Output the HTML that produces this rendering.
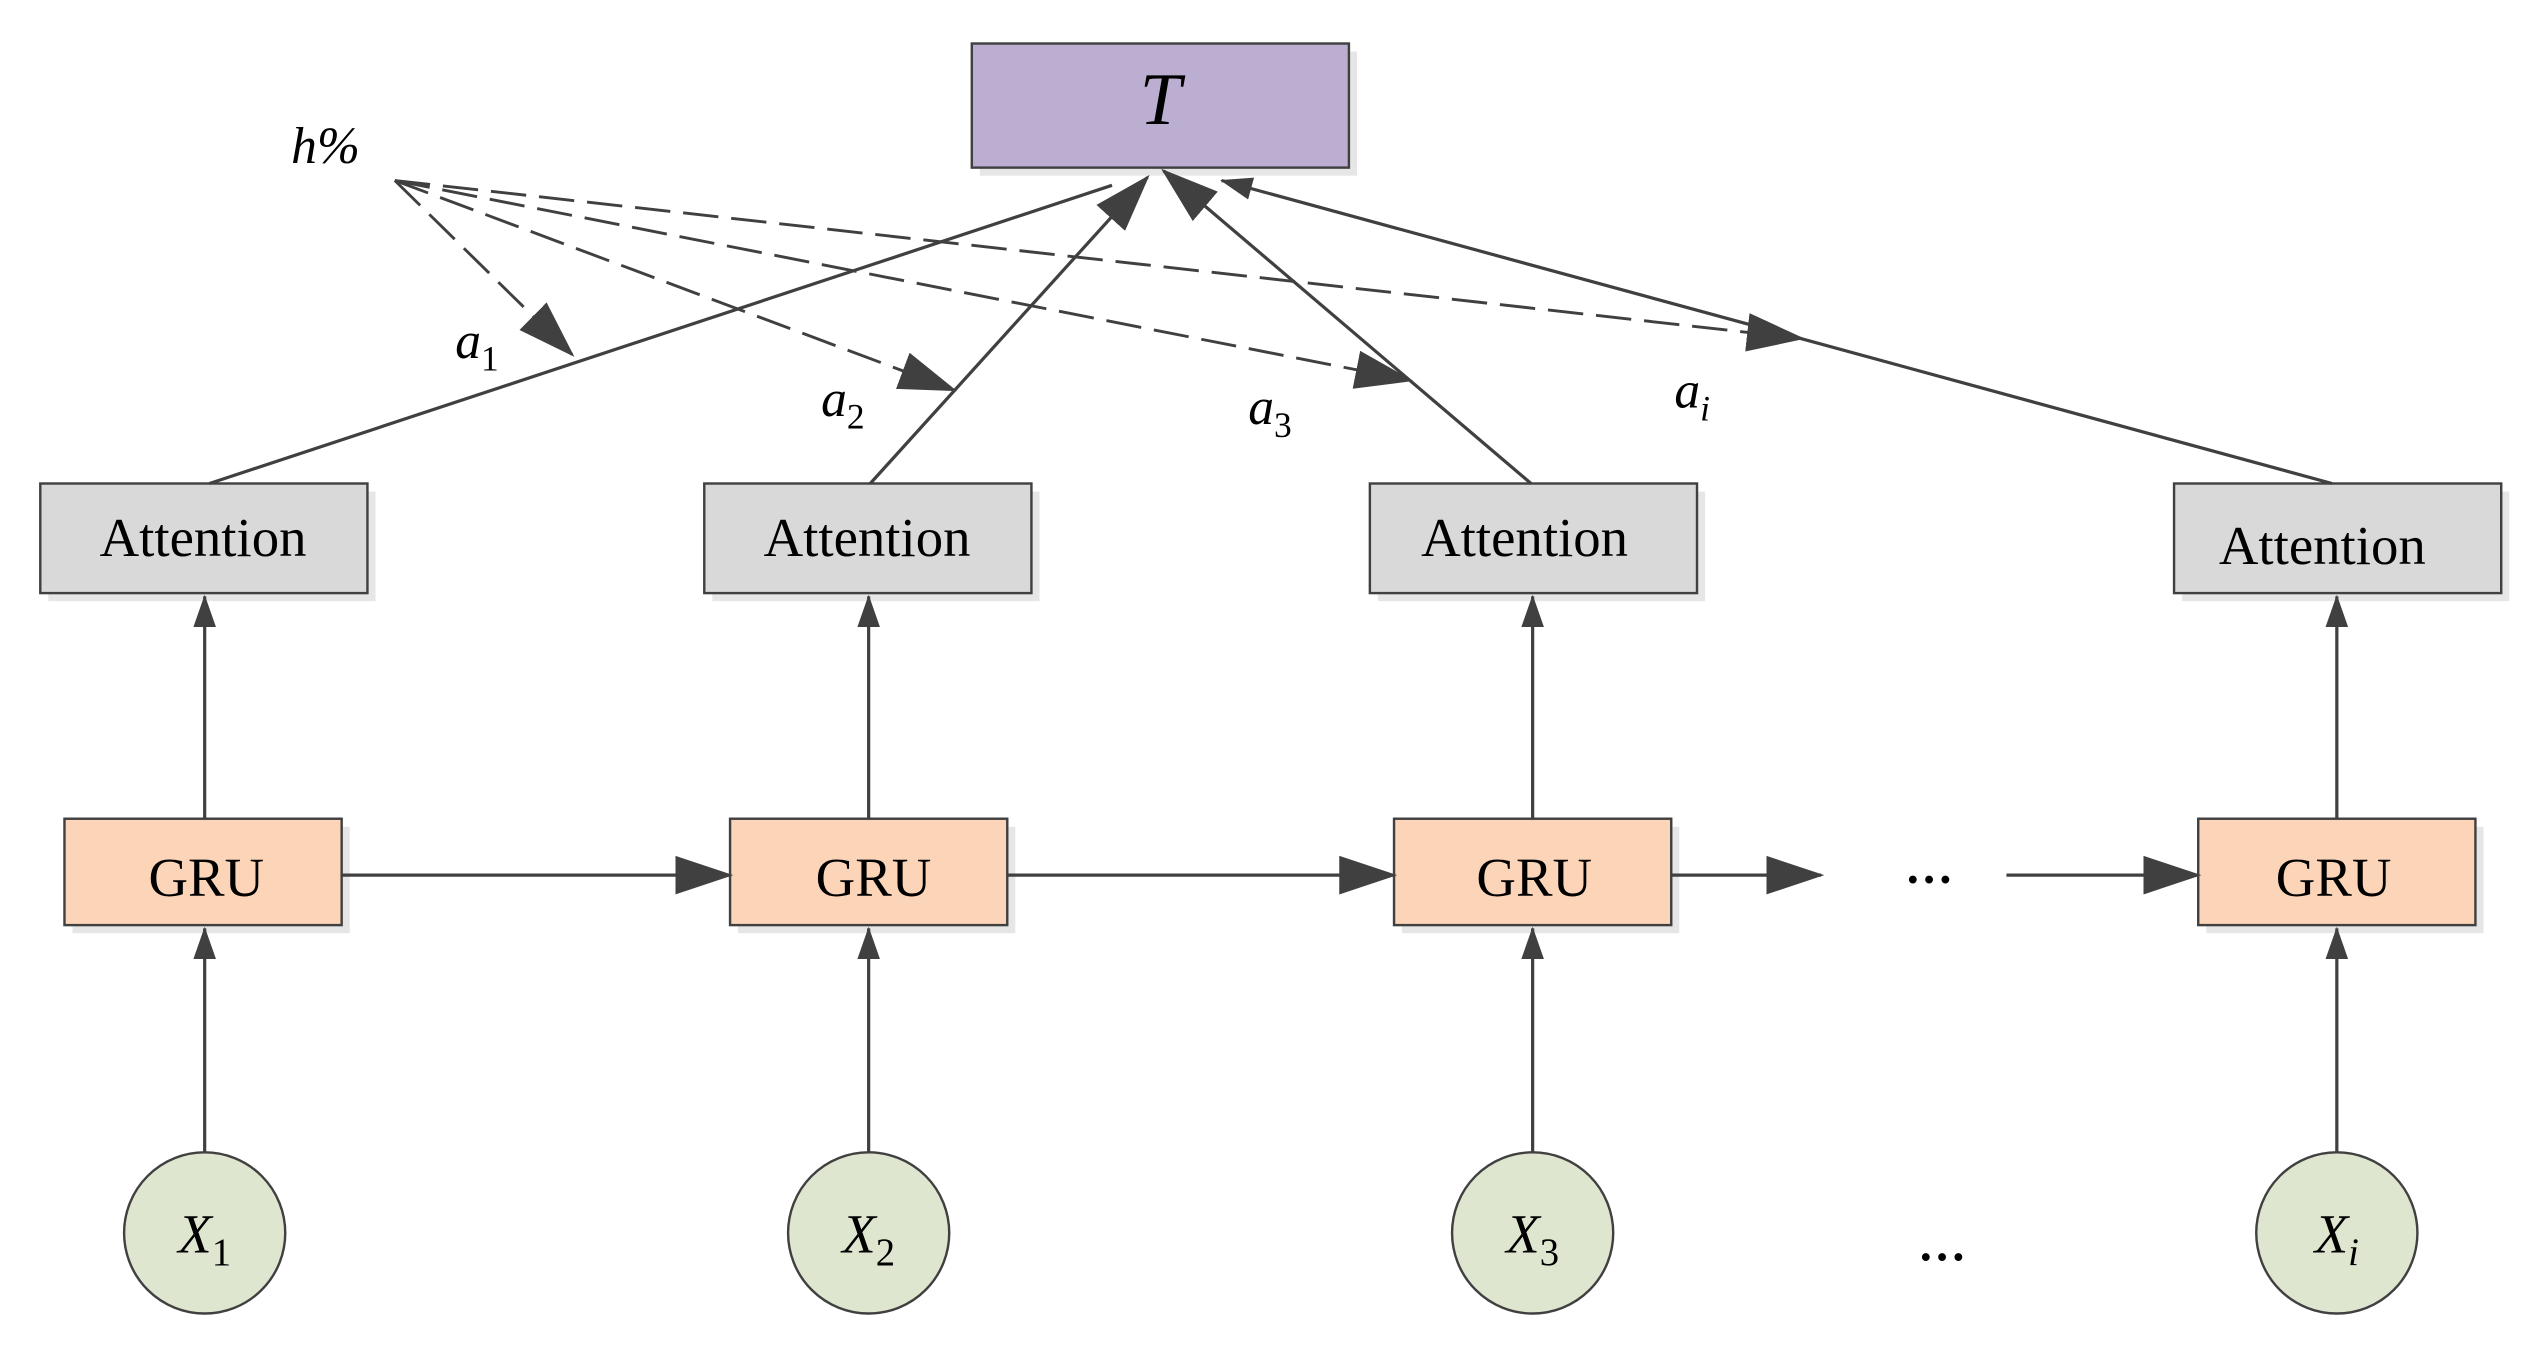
<!DOCTYPE html>
<html><head><meta charset="utf-8"><style>html,body{margin:0;padding:0;background:#fff}svg{display:block}</style></head><body>
<svg width="2527" height="1353" viewBox="0 0 1568 839.5" preserveAspectRatio="none" xmlns="http://www.w3.org/2000/svg" font-family="Liberation Serif, serif">
<defs>
<marker id="am" markerWidth="36" markerHeight="24" refX="34" refY="12" orient="auto" markerUnits="userSpaceOnUse" viewBox="0 0 36 24"><path d="M0,0 L36,12 L0,24 z" fill="#404040"/></marker>
<marker id="as" markerWidth="20" markerHeight="20" refX="19" refY="10" orient="auto" markerUnits="userSpaceOnUse" viewBox="0 0 20 20"><path d="M0,3 L20,10 L0,17 z" fill="#404040"/></marker>
</defs>
<g fill="#e6e6e6">
<rect x="608" y="32" width="234" height="77"/>
<rect x="30" y="305" width="203" height="68"/><rect x="442" y="305" width="203" height="68"/><rect x="855" y="305" width="203" height="68"/><rect x="1354" y="305" width="203" height="68"/>
<rect x="45" y="513" width="172" height="66"/><rect x="458" y="513" width="172" height="66"/><rect x="870" y="513" width="172" height="66"/><rect x="1369" y="513" width="172" height="66"/>
</g>
<rect x="603" y="27" width="234" height="77" fill="#bcaed0" stroke="#404040" stroke-width="1.5"/>
<text x="720" y="77" font-size="46" font-style="italic" text-anchor="middle">T</text>
<text x="202" y="101" font-size="32" font-style="italic" text-anchor="middle">h%</text>
<g fill="#d9d9d9" stroke="#404040" stroke-width="1.5">
<rect x="25" y="300" width="203" height="68"/><rect x="437" y="300" width="203" height="68"/><rect x="850" y="300" width="203" height="68"/><rect x="1349" y="300" width="203" height="68"/>
</g>
<g font-size="34" text-anchor="middle">
<text x="126" y="345">Attention</text><text x="538" y="345">Attention</text><text x="946" y="345">Attention</text><text x="1441" y="350">Attention</text>
</g>
<g fill="#fcd5b8" stroke="#404040" stroke-width="1.5">
<rect x="40" y="508" width="172" height="66"/><rect x="453" y="508" width="172" height="66"/><rect x="865" y="508" width="172" height="66"/><rect x="1364" y="508" width="172" height="66"/>
</g>
<g font-size="34" text-anchor="middle">
<text x="128" y="556">GRU</text><text x="542" y="556">GRU</text><text x="952" y="556">GRU</text><text x="1448" y="556">GRU</text>
</g>
<g fill="#dfe6cf" stroke="#404040" stroke-width="1.5">
<circle cx="127" cy="765" r="50"/><circle cx="539" cy="765" r="50"/><circle cx="951" cy="765" r="50"/><circle cx="1450" cy="765" r="50"/>
</g>
<g font-size="34" font-style="italic" text-anchor="middle">
<text x="127" y="777">X<tspan font-size="24" dy="8" font-style="normal">1</tspan></text>
<text x="539" y="777">X<tspan font-size="24" dy="8" font-style="normal">2</tspan></text>
<text x="951" y="777">X<tspan font-size="24" dy="8" font-style="normal">3</tspan></text>
<text x="1450" y="777">X<tspan font-size="24" dy="8">i</tspan></text>
</g>
<g stroke="#404040" stroke-width="2" fill="none" marker-end="url(#as)">
<line x1="127" y1="715" x2="127" y2="576"/><line x1="539" y1="715" x2="539" y2="576"/><line x1="951" y1="715" x2="951" y2="576"/><line x1="1450" y1="715" x2="1450" y2="576"/>
<line x1="127" y1="508" x2="127" y2="370"/><line x1="539" y1="508" x2="539" y2="370"/><line x1="951" y1="508" x2="951" y2="370"/><line x1="1450" y1="508" x2="1450" y2="370"/>
</g>
<g stroke="#404040" stroke-width="2" fill="none" marker-end="url(#am)">
<line x1="212" y1="543" x2="453" y2="543"/><line x1="625" y1="543" x2="865" y2="543"/><line x1="1037" y1="543" x2="1130" y2="543"/><line x1="1245" y1="543" x2="1364" y2="543"/>
</g>
<text x="1197" y="548" font-size="30" font-weight="bold" text-anchor="middle">…</text>
<text x="1205" y="782" font-size="30" font-weight="bold" text-anchor="middle">…</text>
<g stroke="#404040" stroke-width="2" fill="none">
<line x1="130" y1="300" x2="690" y2="115"/>
<line x1="540" y1="300" x2="712" y2="110" marker-end="url(#am)"/>
<line x1="950" y1="300" x2="722" y2="106" marker-end="url(#am)"/>
<line x1="1447" y1="300" x2="758" y2="112" marker-end="url(#as)"/>
</g>
<g stroke="#404040" stroke-width="1.8" fill="none" stroke-dasharray="22,8" marker-end="url(#am)">
<line x1="245" y1="112" x2="355" y2="220"/>
<line x1="245" y1="112" x2="592" y2="242"/>
<line x1="245" y1="112" x2="875" y2="236"/>
<line x1="245" y1="112" x2="1118" y2="210"/>
</g>
<g font-size="32" font-style="italic" text-anchor="middle">
<text x="296" y="222">a<tspan font-size="22" dy="8" font-style="normal">1</tspan></text>
<text x="523" y="258">a<tspan font-size="22" dy="8" font-style="normal">2</tspan></text>
<text x="788" y="263">a<tspan font-size="22" dy="8" font-style="normal">3</tspan></text>
<text x="1050" y="253">a<tspan font-size="22" dy="8">i</tspan></text>
</g>
</svg>
</body></html>
